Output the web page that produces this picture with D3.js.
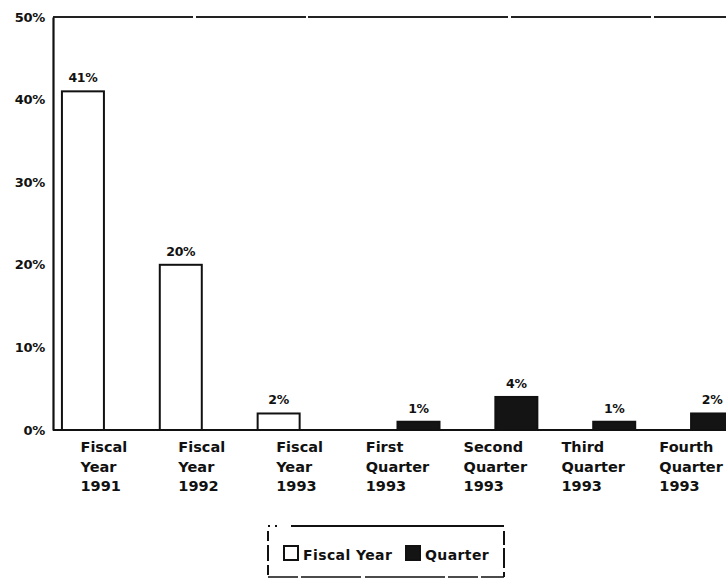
<!DOCTYPE html>
<html>
<head>
<meta charset="utf-8">
<script src="https://cdn.jsdelivr.net/npm/d3@7"></script>
<style>
  html, body { margin: 0; padding: 0; background: #fff; }
  svg { display: block; }
  text { font-family: "DejaVu Sans", sans-serif; font-weight: bold; fill: #111; }
</style>
</head>
<body>
<svg id="chart" width="726" height="578"></svg>
<script>
// ---- data ----
const categories = ["FY1991", "FY1992", "FY1993", "Q1 1993", "Q2 1993", "Q3 1993", "Q4 1993"];
const categoryLabels = [
  ["Fiscal", "Year", "1991"],
  ["Fiscal", "Year", "1992"],
  ["Fiscal", "Year", "1993"],
  ["First", "Quarter", "1993"],
  ["Second", "Quarter", "1993"],
  ["Third", "Quarter", "1993"],
  ["Fourth", "Quarter", "1993"]
];
const seriesNames = ["Fiscal Year", "Quarter"];
const fiscalYearValues = [41, 20, 2, null, null, null, null];
const quarterValues = [null, null, null, 1, 4, 1, 2];
const yTicks = [0, 10, 20, 30, 40, 50];

// ---- layout ----
const W = 726, H = 578;
const plotLeft = 53, plotTop = 17, plotBottom = 430;
const svg = d3.select("#chart");

const y = d3.scaleLinear().domain([0, 50]).range([plotBottom, plotTop]);
const x = d3.scaleBand().domain(categories).range([55, 740]).paddingInner(0).paddingOuter(0);
const xs = d3.scaleBand().domain(seriesNames).range([0, x.bandwidth()]).paddingInner(0).paddingOuter(0.165);
const fillFor = { "Fiscal Year": "#fff", "Quarter": "#141414" };

// frame lines
svg.append("line").attr("x1", plotLeft).attr("x2", W).attr("y1", y(50)).attr("y2", y(50))
  .attr("stroke", "#222").attr("stroke-width", 2).attr("stroke-dasharray", "140,3,110,2,200,3");
svg.append("line").attr("x1", plotLeft).attr("x2", W).attr("y1", y(0)).attr("y2", y(0))
  .attr("stroke", "#111").attr("stroke-width", 2.2);

// y axis
const yAxis = d3.axisLeft(y).tickValues(yTicks).tickFormat(d => d + "%").tickSize(0).tickPadding(8);
const gy = svg.append("g").attr("transform", `translate(${plotLeft},0)`).call(yAxis);
gy.select(".domain").attr("stroke", "#111").attr("stroke-width", 2.2);
gy.selectAll("text").attr("font-size", 13).attr("font-family", "DejaVu Sans").attr("font-weight", "bold")
  .attr("fill", "#111").attr("letter-spacing", "-0.3");

// bars
const rows = categories.map((c, i) => ({ cat: c, values: [
  { key: "Fiscal Year", v: fiscalYearValues[i] },
  { key: "Quarter", v: quarterValues[i] }
].filter(d => d.v !== null) }));

const gBars = svg.append("g");
rows.forEach(r => {
  r.values.forEach(d => {
    const bx = x(r.cat) + xs(d.key);
    gBars.append("rect")
      .attr("x", bx).attr("y", y(d.v))
      .attr("width", xs.bandwidth()).attr("height", y(0) - y(d.v))
      .attr("fill", fillFor[d.key])
      .attr("stroke", "#111").attr("stroke-width", 2);
    gBars.append("text")
      .attr("x", bx + xs.bandwidth() / 2).attr("y", y(d.v) - 9)
      .attr("text-anchor", "middle").attr("font-size", 12.5).attr("letter-spacing", "-0.3")
      .text(d.v + "%");
  });
});

// category labels (left-aligned block centred under each category)
const gLab = svg.append("g");
categories.forEach((c, i) => {
  const t = gLab.append("text").attr("font-size", 14.5);
  categoryLabels[i].forEach((line, j) => {
    t.append("tspan").attr("y", y(0) + 22 + j * 19.5).text(line);
  });
  let maxW = 0;
  t.selectAll("tspan").each(function() { maxW = Math.max(maxW, this.getComputedTextLength()); });
  const cx = x(c) + x.bandwidth() / 2;
  t.selectAll("tspan").attr("x", cx - maxW / 2);
});

// legend
const lg = svg.append("g");
const bx0 = 268, bx1 = 504, by0 = 526, by1 = 577;
lg.append("line").attr("x1", bx0).attr("x2", bx1).attr("y1", by0).attr("y2", by0)
  .attr("stroke", "#111").attr("stroke-width", 2).attr("stroke-dasharray", "2,5,2,14,400");
lg.append("line").attr("x1", bx0).attr("x2", bx0).attr("y1", by0 + 5).attr("y2", by1)
  .attr("stroke", "#111").attr("stroke-width", 2).attr("stroke-dasharray", "10,4,16,4");
lg.append("line").attr("x1", bx1).attr("x2", bx1).attr("y1", by0 + 5).attr("y2", by1)
  .attr("stroke", "#111").attr("stroke-width", 2).attr("stroke-dasharray", "14,3,20,4");
lg.append("line").attr("x1", bx0).attr("x2", bx1).attr("y1", by1).attr("y2", by1)
  .attr("stroke", "#111").attr("stroke-width", 1.5).attr("stroke-dasharray", "30,3,60,4,80,3");
const legendX = d3.scalePoint().domain(seriesNames).range([284, 406]);
seriesNames.forEach(s => {
  lg.append("rect").attr("x", legendX(s)).attr("y", 546).attr("width", 14).attr("height", 14)
    .attr("fill", fillFor[s]).attr("stroke", "#111").attr("stroke-width", 2);
  lg.append("text").attr("x", legendX(s) + 19).attr("y", 560).attr("font-size", 14)
    .attr("letter-spacing", "0.4").text(s);
});
</script>
</body>
</html>
